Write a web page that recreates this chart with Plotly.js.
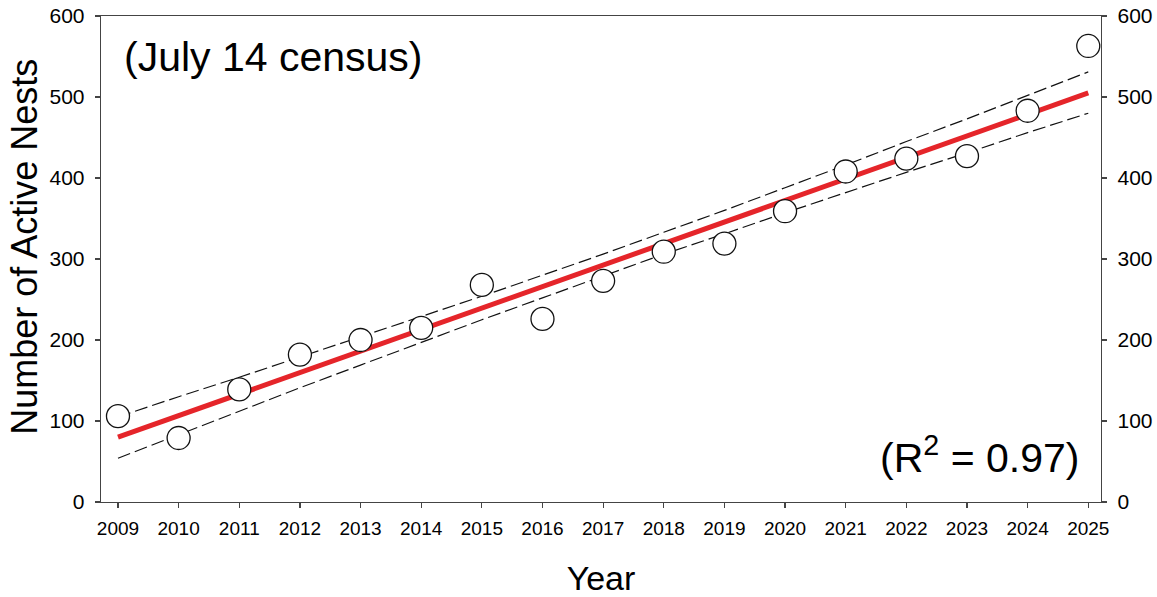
<!DOCTYPE html>
<html>
<head>
<meta charset="utf-8">
<script src="https://cdn.plot.ly/plotly-3.0.1.min.js"></script>
<style>html,body{margin:0;padding:0;background:#fff;}#chart{width:1157px;height:597px;}</style>
</head>
<body>
<div id="chart"></div>
<script>
// Data
const years = [2009,2010,2011,2012,2013,2014,2015,2016,2017,2018,2019,2020,2021,2022,2023,2024,2025];
const nests = [106,79,139,182,200,215,268,226,273,309,319,359,408,424,427,483,563];
// Fitted regression line (end points)
const fitYears = [2009, 2025];
const fitValues = [80, 505];
// Confidence band (dashed lines)
const upperBand = [105,130,154,179,204,229,254,280,306,333,360,388,416,445,473,502,531];
const lowerBand = [54,83,112,141,169,197,225,252,279,306,331,357,382,407,431,456,480];
const tickYears = years.map(String);
const yTicks = [0,100,200,300,400,500,600];

const FONT = 'Arial, "Liberation Sans", sans-serif';

const traces = [
  {x: years, y: upperBand, mode: 'lines', line: {color: '#111', width: 1.2, dash: '13px,5px'}, hoverinfo: 'skip', showlegend: false},
  {x: years, y: lowerBand, mode: 'lines', line: {color: '#111', width: 1.2, dash: '13px,5px'}, hoverinfo: 'skip', showlegend: false},
  {x: fitYears, y: fitValues, mode: 'lines', line: {color: '#e5252a', width: 5}, showlegend: false},
  {x: years, y: nests, mode: 'markers', marker: {size: 23, color: '#ffffff', line: {color: '#111', width: 1.3}}, showlegend: false},
  {x: [years[0]], y: [0], yaxis: 'y2', mode: 'markers', marker: {opacity: 0}, hoverinfo: 'skip', showlegend: false}
];

const layout = {
  width: 1157, height: 597,
  margin: {l: 101, r: 56, t: 16, b: 95},
  paper_bgcolor: '#fff', plot_bgcolor: '#fff',
  font: {family: FONT, color: '#000'},
  showlegend: false,
  xaxis: {
    range: [2008.72, 2025.21], tickvals: years, ticktext: tickYears,
    showgrid: false, zeroline: false, showline: true, mirror: true,
    linecolor: '#444', linewidth: 1.3, ticks: 'outside', ticklen: 5, tickwidth: 1.2, tickcolor: '#444',
    tickfont: {size: 19, family: FONT}, ticklabelstandoff: 4,
    title: {text: 'Year', font: {size: 34, family: FONT}, standoff: 28}
  },
  yaxis: {
    range: [0, 600], tickvals: yTicks,
    showgrid: false, zeroline: false, showline: true,
    linecolor: '#444', linewidth: 1.3, ticks: 'outside', ticklen: 5, tickwidth: 1.2, tickcolor: '#444',
    tickfont: {size: 21, family: FONT}, ticklabelstandoff: 6
  },
  yaxis2: {
    range: [0, 600], tickvals: yTicks, overlaying: 'y', side: 'right', anchor: 'x',
    showgrid: false, zeroline: false, showline: true,
    linecolor: '#444', linewidth: 1.3, ticks: 'outside', ticklen: 5, tickwidth: 1.2, tickcolor: '#444',
    tickfont: {size: 21, family: FONT}, ticklabelstandoff: 6
  },
  annotations: [
    {xref: 'paper', yref: 'paper', x: -0.076, y: 0.525, xanchor: 'center', yanchor: 'middle', textangle: -90,
     text: 'Number of Active Nests', showarrow: false, font: {size: 36, family: FONT, color: '#000'}},
    {xref: 'paper', yref: 'paper', x: 0.021, y: 0.916, xanchor: 'left', yanchor: 'middle',
     text: '(July 14 census)', showarrow: false, font: {size: 41, family: FONT, color: '#000'}},
    {xref: 'paper', yref: 'paper', x: 0.98, y: 0.097, xanchor: 'right', yanchor: 'middle',
     text: '(R<sup>2</sup> = 0.97)', showarrow: false, font: {size: 41, family: FONT, color: '#000'}}
  ]
};

Plotly.newPlot('chart', traces, layout, {displayModeBar: false, staticPlot: true});
</script>
</body>
</html>
